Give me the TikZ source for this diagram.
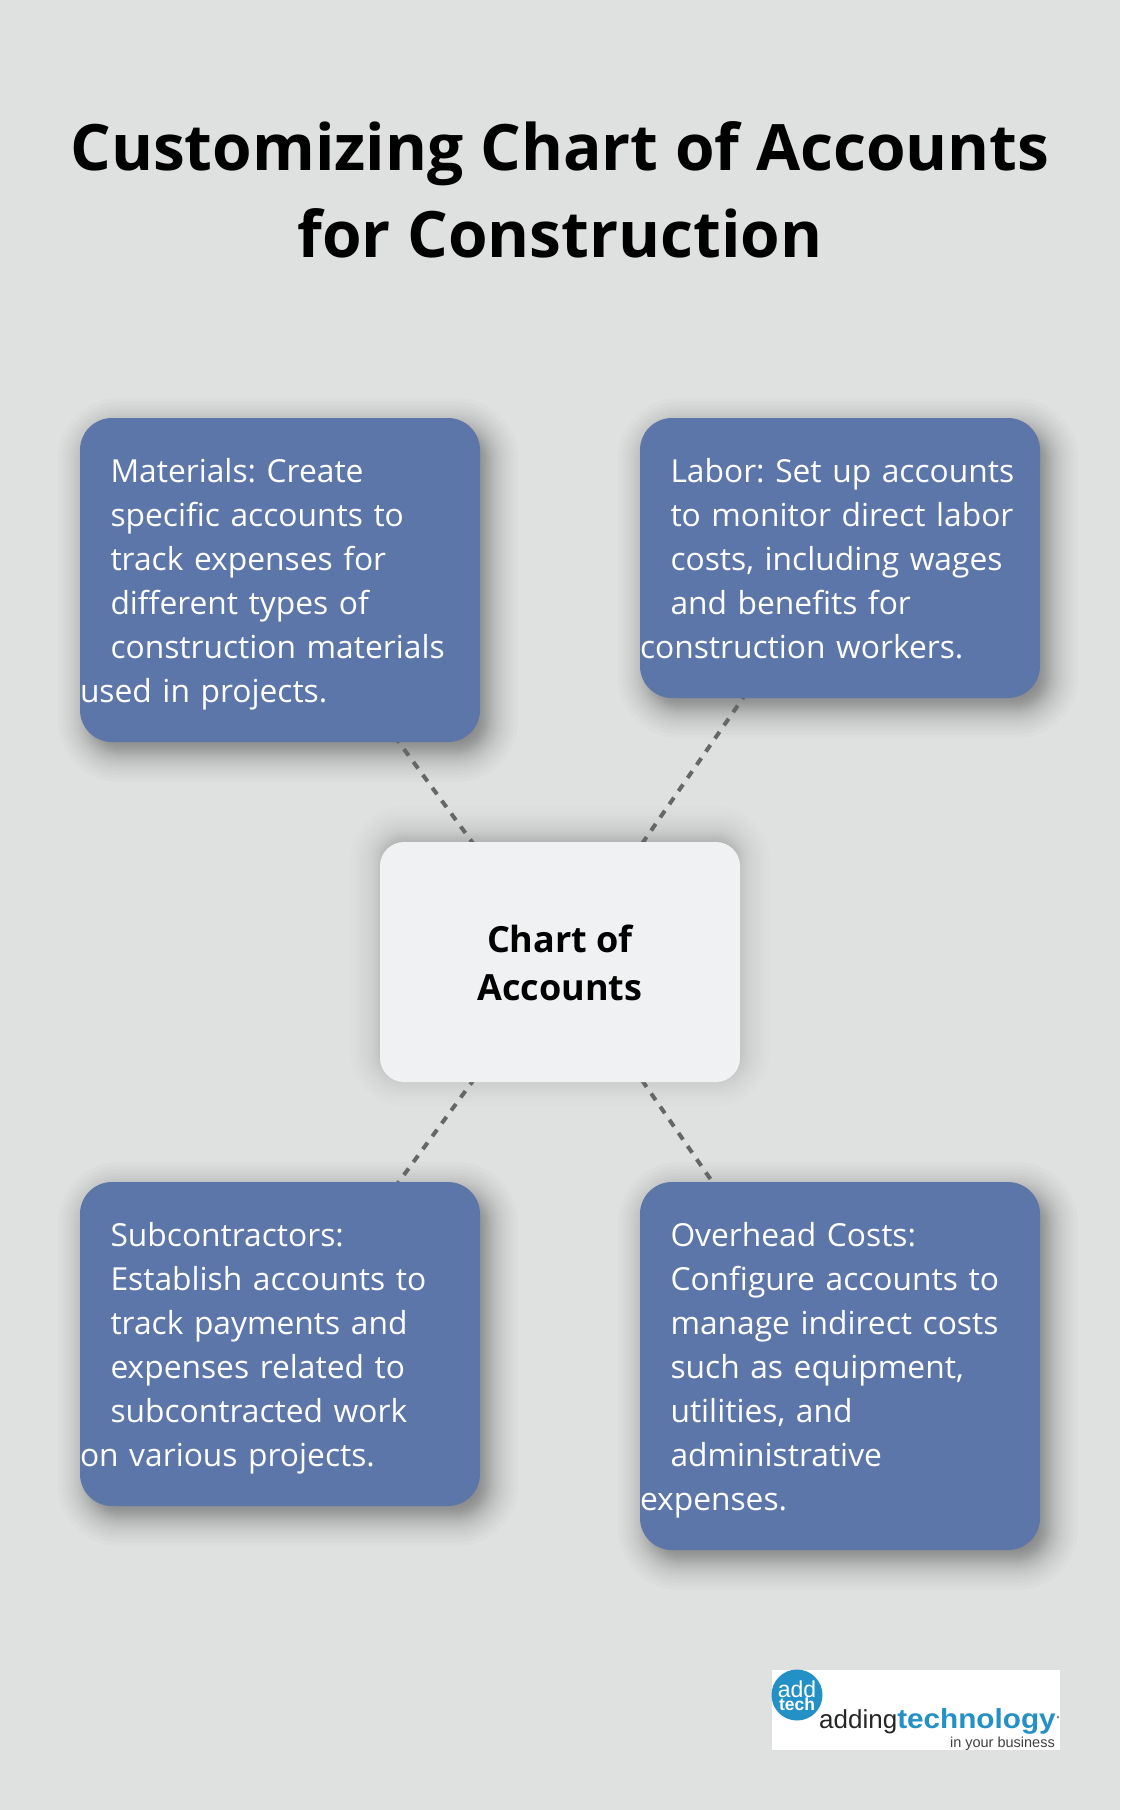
\documentclass[tikz,border=0pt]{standalone}
\usepackage{fontspec}
\setmainfont{Open Sans}
\newfontfamily\logofont{Liberation Sans}
\newfontfamily\logostretch[FakeStretch=1.08]{Liberation Sans Bold}
\usetikzlibrary{calc}
\definecolor{pagebg}{HTML}{DEE1E0}
\definecolor{boxblue}{HTML}{5D76A9}
\definecolor{centerfill}{HTML}{EFF1F3}
\definecolor{dashgrey}{HTML}{666666}
\definecolor{logoblue}{HTML}{2390C6}
\pgfdeclarelayer{pagelayer}
\pgfdeclarelayer{shadowlayer}
\pgfdeclarelayer{connlayer}
\pgfsetlayers{pagelayer,shadowlayer,connlayer,main}
\newcommand{\fst}{\leftskip=30.5pt\relax\rule{0pt}{34pt}}
\newcommand{\lst}{\rule[-10pt]{0pt}{10pt}}
% soft shadow: node, dx, dy, blur radius, corner radius, opacity of each layer
\newcommand{\softshadow}[6]{%
  \begin{pgfonlayer}{shadowlayer}
    \foreach \k in {-15,...,15}{
      \pgfmathsetmacro{\t}{\k/15}
      \pgfmathsetmacro{\d}{#4*(0.45*\t+0.55*\t*\t*\t)}
      \pgfmathsetmacro{\rr}{max(#5+\d,1)}
      \fill[black,fill opacity=#6,rounded corners=\rr pt]
        ($(#1.north west)+(#2-\d,#3-\d)$) rectangle ($(#1.south east)+(#2+\d,#3+\d)$);
    }
  \end{pgfonlayer}}
\tikzset{
  x=1pt,y=-1pt,
  titletext/.style={font=\fontsize{64}{87}\bfseries\selectfont,text=black,align=center,inner sep=0pt},
  bluebox/.style={fill=boxblue,rounded corners=32pt,inner sep=0pt,text=white,align=left,
    font=\fontsize{31.75}{44}\selectfont\frenchspacing,text width=400pt},
  centerbox/.style={fill=centerfill,rounded corners=24pt,inner sep=0pt,text=black,align=center,
    font=\fontsize{36}{48}\bfseries\selectfont},
  linkline/.style={draw=dashgrey,line width=4pt,dash pattern=on 8pt off 8pt},
}
\begin{document}
\begin{tikzpicture}
\useasboundingbox (0,0) rectangle (1120,1810);
\begin{pgfonlayer}{pagelayer}
\fill[pagebg] (0,0) rectangle (1120,1810);
\end{pgfonlayer}
\node[titletext,anchor=center] (title) at (560,189.5) {Customizing Chart of Accounts\\for Construction};
\node[bluebox,minimum width=400pt,minimum height=324pt] (materials) at (280,580)
  {\fst Materials: Create\\specific accounts to\\track expenses for\\different types of\\construction materials\\used in projects.\lst};
\node[bluebox,minimum width=400pt,minimum height=280pt] (labor) at (840,558)
  {\fst Labor: Set up accounts\\to monitor direct labor\\costs, including wages\\and benefits for\\construction workers.\lst};
\node[bluebox,minimum width=400pt,minimum height=324pt] (sub) at (280,1344)
  {\fst Subcontractors:\\Establish accounts to\\track payments and\\expenses related to\\subcontracted work\\on various projects.\lst};
\node[bluebox,minimum width=400pt,minimum height=368pt] (over) at (840,1366)
  {\fst Overhead Costs:\\Configure accounts to\\manage indirect costs\\such as equipment,\\utilities, and\\administrative\\expenses.\lst};
\node[centerbox,minimum width=360pt,minimum height=240pt] (chart) at (560,962) {\rule{0pt}{38pt}Chart of\\Accounts\rule[-10pt]{0pt}{10pt}};
\softshadow{materials}{8}{10}{30}{32}{0.0138}
\softshadow{labor}{8}{10}{30}{32}{0.0138}
\softshadow{sub}{8}{10}{30}{32}{0.0138}
\softshadow{over}{8}{10}{30}{32}{0.0138}
\softshadow{chart}{0}{-6}{30}{24}{0.0092}
\begin{pgfonlayer}{connlayer}
  \draw[linkline] (chart.center) -- (materials.center);
  \draw[linkline] (chart.center) -- (labor.center);
  \draw[linkline] (chart.center) -- (sub.center);
  \draw[linkline] (chart.center) -- (over.center);
\end{pgfonlayer}
% logo
\node[fill=white,minimum width=288pt,minimum height=80pt,inner sep=0pt] (logobox) at (916,1710) {};
\node[fill=logoblue,circle,minimum size=51pt,inner sep=0pt] (logocircle) at (797,1695) {};
\node[anchor=base,inner sep=0pt,text=white,font=\logofont\fontsize{23}{23}\selectfont] (logoadd) at (797,1697) {add};
\node[anchor=base,inner sep=0pt,text=white,font=\logofont\fontsize{17.5}{18}\bfseries\selectfont] (logotech) at (797,1710) {tech};
\node[anchor=base west,inner sep=0pt,font=\logofont\fontsize{26}{26}\selectfont] (logoword) at (819,1728)
  {\textcolor{black!85}{adding}\textcolor{logoblue}{\logostretch\fontsize{27.5}{26}\selectfont technology}};
\node[anchor=base east,inner sep=0pt,text=black!75,font=\logofont\fontsize{14.5}{15}\selectfont] (logotag) at (1055,1747) {in your business};
\fill[black!45] (1058,1717) circle (1.5pt);
\end{tikzpicture}
\end{document}
